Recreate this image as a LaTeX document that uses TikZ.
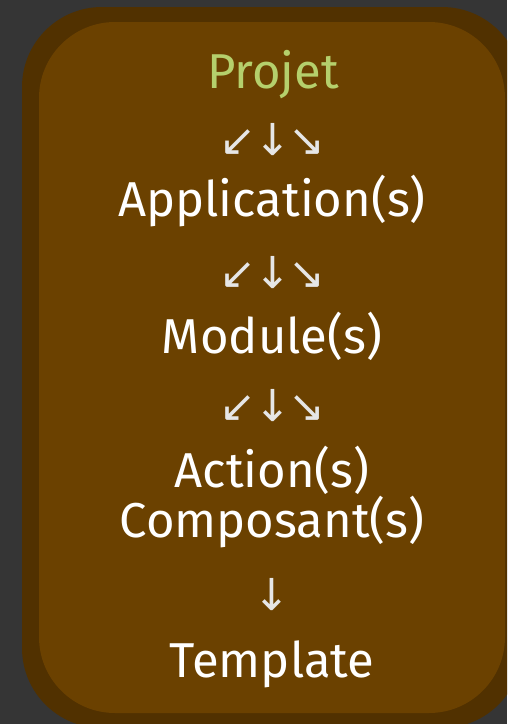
\documentclass[tikz,border=0pt]{standalone}
\usepackage{fontspec}
\setmainfont{Fira Sans}
\newfontfamily\arrowfont{DejaVu Sans}
\definecolor{bgc}{HTML}{353535}
\definecolor{outerc}{HTML}{513100}
\definecolor{innerc}{HTML}{6B4100}
\definecolor{greenc}{HTML}{B5D06C}
\definecolor{arrowc}{HTML}{E6E6E6}
\tikzset{
  lbl/.style={anchor=base, text=white, font=\fontsize{49}{49}\selectfont, inner sep=0pt},
  arr/.style={anchor=center, text=arrowc, font=\arrowfont\fontsize{44}{44}\selectfont, inner sep=0pt}
}
\begin{document}
\begin{tikzpicture}[x=1pt,y=-1pt]
\useasboundingbox (0,0) rectangle (507,724);
\clip (0,0) rectangle (507,724);
\fill[bgc] (0,0) rectangle (507,724);
\fill[outerc, rounded corners=80pt] (22,7) rectangle (522,728);
\fill[innerc, rounded corners=76pt] (39,22) rectangle (505,713);
\node[lbl, text=greenc] (projet) at (273,88) {Projet};
\node[arr] (a1) at (272.5,140) {↙\kern-2pt↓\kern-2pt↘};
\node[lbl] (app) at (272,216) {Application(s)};
\node[arr] (a2) at (272.5,273) {↙\kern-2pt↓\kern-2pt↘};
\node[lbl] (mod) at (272,353) {Module(s)};
\node[arr] (a3) at (272.5,406) {↙\kern-2pt↓\kern-2pt↘};
\node[lbl] (act) at (272,487) {Action(s)};
\node[lbl] (comp) at (272,537) {Composant(s)};
\node[arr] (a4) at (272,595) {↓};
\node[lbl] (tpl) at (272,677) {Template};
\end{tikzpicture}
\end{document}
